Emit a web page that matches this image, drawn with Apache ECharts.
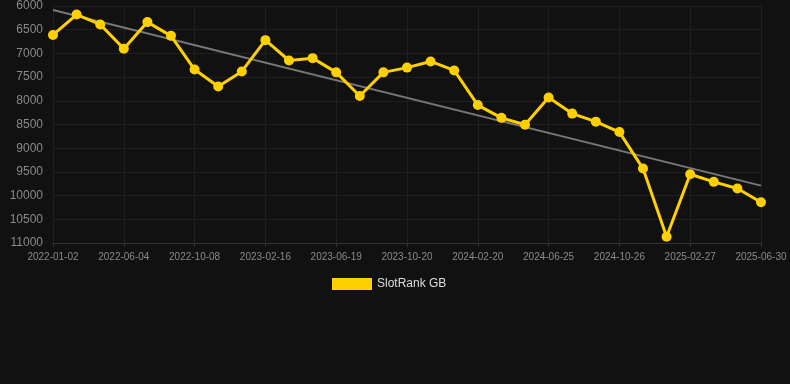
<!DOCTYPE html>
<html>
<head>
<meta charset="utf-8">
<style>
html,body{margin:0;padding:0;background:#111111;}
#chart{width:790px;height:384px;}
</style>
<script src="https://cdn.jsdelivr.net/npm/echarts@6/dist/echarts.min.js"></script>
</head>
<body>
<div id="chart"></div>
<script>
const categories = [
  '2022-01-02','2022-02-22','2022-04-14','2022-06-04','2022-07-16','2022-08-27',
  '2022-10-08','2022-11-20','2023-01-03','2023-02-16','2023-03-29','2023-05-09',
  '2023-06-19','2023-07-30','2023-09-09','2023-10-20','2023-11-30','2024-01-10',
  '2024-02-20','2024-04-01','2024-05-14','2024-06-25','2024-08-05','2024-09-15',
  '2024-10-26','2024-12-06','2025-01-16','2025-02-27','2025-04-09','2025-05-20',
  '2025-06-30'
];
const rankValues = [
  6610, 6180, 6390, 6900, 6340, 6630, 7340, 7700, 7380, 6720,
  7150, 7100, 7400, 7900, 7400, 7300, 7170, 7360, 8090, 8360,
  8505, 7930, 8270, 8440, 8660, 9430, 10870, 9550, 9710, 9850, 10140
];
const trendStart = 6085;
const trendEnd = 9790;
const yTicks = { min: 6000, max: 11000, interval: 500 };

const chart = echarts.init(document.getElementById('chart'));
chart.setOption({
  backgroundColor: '#111111',
  animation: false,
  grid: { left: 53, right: 29, top: 6, bottom: 141, containLabel: false },
  legend: {
    data: ['SlotRank GB'],
    top: 273,
    left: 327,
    icon: 'rect',
    itemWidth: 40,
    itemHeight: 12,
    textStyle: { color: '#dddddd', fontSize: 12, fontFamily: 'Liberation Sans, Arial, sans-serif' }
  },
  xAxis: {
    type: 'category',
    data: categories,
    boundaryGap: false,
    axisLine: { show: true, lineStyle: { color: '#333333' } },
    axisTick: { show: true, interval: 2, length: 4, lineStyle: { color: '#333333' } },
    axisLabel: { interval: 2, color: '#8a8a8a', fontSize: 10, margin: 9, fontFamily: 'Liberation Sans, Arial, sans-serif' },
    splitLine: { show: true, interval: 2, lineStyle: { color: '#1f1f1f' } }
  },
  yAxis: {
    type: 'value',
    inverse: true,
    min: yTicks.min,
    max: yTicks.max,
    interval: yTicks.interval,
    axisLine: { show: false },
    axisTick: { show: false },
    axisLabel: { color: '#8a8a8a', fontSize: 12, margin: 10, formatter: v => String(v), fontFamily: 'Liberation Sans, Arial, sans-serif' },
    splitLine: { show: true, lineStyle: { color: '#1f1f1f' } }
  },
  series: [
    {
      name: 'Trend',
      type: 'line',
      data: [[0, trendStart], [categories.length - 1, trendEnd]],
      symbol: 'none',
      lineStyle: { color: '#777777', width: 2 },
      z: 1,
      silent: true
    },
    {
      name: 'SlotRank GB',
      type: 'line',
      data: rankValues,
      symbol: 'circle',
      symbolSize: 10,
      itemStyle: { color: '#FFD000' },
      lineStyle: { color: '#FFD000', width: 3 },
      z: 2
    }
  ]
});
</script>
</body>
</html>
